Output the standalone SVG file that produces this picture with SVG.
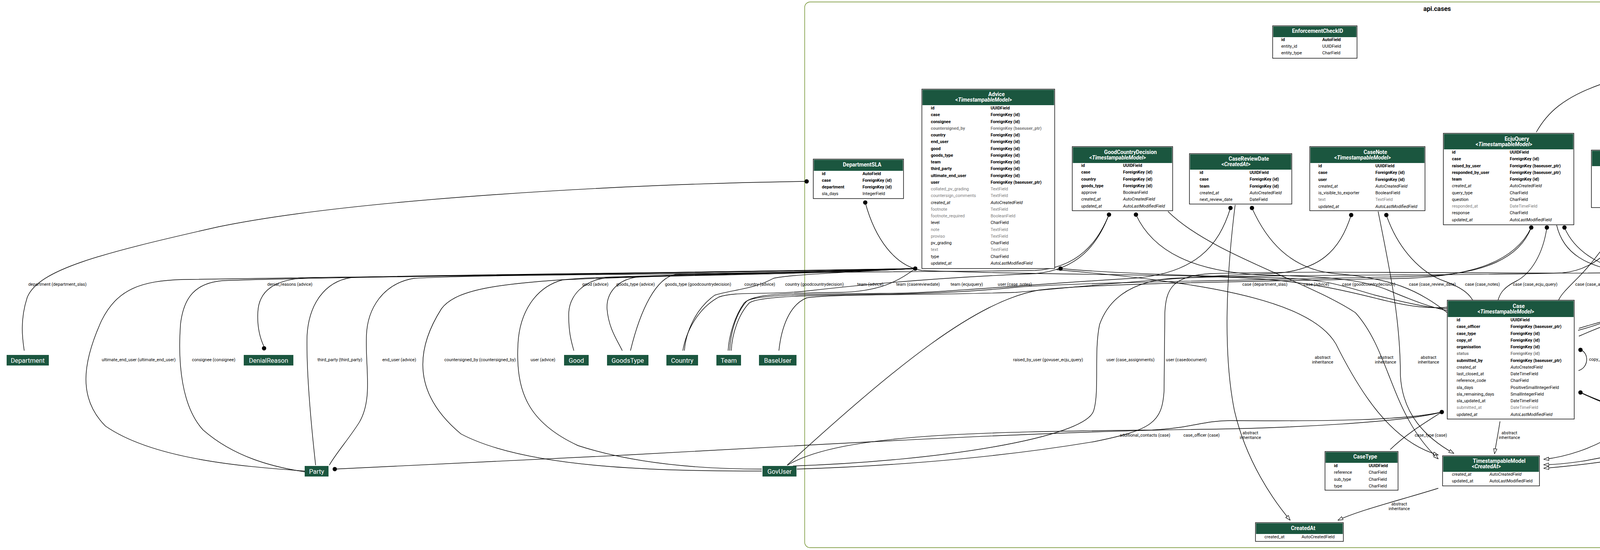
<svg xmlns="http://www.w3.org/2000/svg" width="5928" height="1407" viewBox="0 0 5928 1407">
<defs>
<style>
.tb{fill:#fff;stroke:#000;stroke-width:1.4}
.hd{fill:#1b563f}
.tt{font-family:Roboto,'Liberation Sans',sans-serif;font-size:13.75px;font-weight:bold;fill:#fff;text-anchor:middle}
.f{font-family:Roboto,'Liberation Sans',sans-serif;font-size:11px;fill:#000}
.b{font-weight:bold}
.i{font-style:italic}
.g{fill:#7b7b7b}
.xr{fill:#1b563f}
.xt{font-family:Roboto,'Liberation Sans',sans-serif;font-size:16.5px;fill:#fff;text-anchor:middle}
.e{fill:none;stroke:#000;stroke-width:1.4}
.el{font-family:Roboto,'Liberation Sans',sans-serif;font-size:11px;fill:#000;text-anchor:middle}
.cl{fill:none;stroke:#698b22;stroke-width:1.4}
.ct{font-family:Roboto,'Liberation Sans',sans-serif;font-size:16.5px;font-weight:bold;fill:#000;text-anchor:middle}
.dot{fill:#000}
</style>
<marker id="tri" viewBox="0 0 14 10" refX="13.5" refY="5" markerWidth="14" markerHeight="10" orient="auto" markerUnits="userSpaceOnUse"><path d="M0.7,0.7 L13.3,5 L0.7,9.3 Z" fill="#fff" stroke="#000" stroke-width="1.2"/></marker>
</defs>
<rect x="0" y="0" width="5928" height="1407" fill="#fff"/>
<g id="cluster_api_cases">
<rect class="cl" x="2060" y="5" width="3239" height="1396" rx="14"/>
<text class="ct" x="3679" y="28">api.cases</text>
</g>

<g id="connectors">
<path class="e" d="M2065,464 C1600,470 900,510 560,580 C250,650 100,690 70,760 C50,820 58,870 62,897"/>
<path class="e" d="M2215,518 C2240,610 2290,680 2360,692 C2700,705 3000,700 3200,712 C3350,720 3450,745 3530,765 C3610,785 3660,790 3705,786"/>
<path class="e" d="M2343,687 C2100,700 1300,704 800,710 C700,712 662,745 660,800 C658,840 668,870 676,887"/>
<path class="e" d="M2343,687 C1800,700 800,705 470,715 C360,718 300,740 260,820 C210,930 200,1020 270,1090 C400,1180 650,1195 780,1205"/>
<path class="e" d="M2343,687 C1800,700 900,706 570,718 C500,724 470,760 462,830 C455,930 465,1040 520,1100 C600,1170 700,1195 780,1207"/>
<path class="e" d="M2343,687 C1800,698 1100,702 900,710 C830,720 790,780 786,860 C784,960 798,1100 808,1190"/>
<path class="e" d="M2343,687 C1800,698 1200,704 1060,712 C980,725 940,790 938,860 C935,940 955,1020 920,1080 C895,1120 860,1160 843,1190"/>
<path class="e" d="M2343,687 C2000,698 1600,705 1490,712 C1300,725 1170,735 1130,790 C1060,900 1060,1010 1180,1110 C1350,1200 1700,1205 1950,1205"/>
<path class="e" d="M2343,687 C2000,698 1600,708 1440,716 C1370,735 1330,800 1326,880 C1320,1000 1350,1080 1480,1140 C1650,1195 1850,1200 1950,1200"/>
<path class="e" d="M2343,687 C2000,700 1700,705 1560,710 C1490,715 1458,760 1456,800 C1455,850 1463,875 1469,897"/>
<path class="e" d="M2343,687 C2100,700 1800,704 1640,708 C1580,712 1552,750 1554,790 C1558,840 1580,870 1593,897"/>
<path class="e" d="M2343,687 C2300,720 2250,746 2150,748 C2000,750 1930,752 1905,775 C1880,810 1866,860 1864,897"/>
<path class="e" d="M2343,687 C2150,697 2020,703 1980,712 C1930,740 1870,742 1830,755 C1780,790 1756,850 1752,897"/>
<path class="e" d="M2715,687 C2850,700 3100,706 3300,712 C3400,716 3450,735 3520,755 C3600,775 3660,788 3705,790"/>
<path class="e" marker-end="url(#tri)" d="M2705,690 C3050,720 3350,760 3420,880 C3480,1000 3560,1130 3682,1164"/>
<path class="e" d="M2839,549 C2810,620 2760,685 2650,692 C2300,696 1900,697 1730,702 C1680,710 1640,790 1614,897"/>
<path class="e" d="M2839,549 C2810,625 2760,690 2650,700 C2350,712 2150,735 2060,745 C1960,755 1880,745 1840,760 C1785,790 1756,850 1748,897"/>
<path class="e" d="M2908,549 C2950,640 3050,698 3250,704 C3420,708 3500,718 3560,745 C3620,770 3660,785 3705,795"/>
<path class="e" marker-end="url(#tri)" d="M2990,541 C3100,650 3350,720 3470,800 C3560,900 3560,1060 3682,1174"/>
<path class="e" d="M3150,532 C3120,630 3060,700 2900,712 C2600,730 2420,748 2300,750 C2100,752 1940,752 1912,770 C1885,800 1870,850 1868,897"/>
<path class="e" d="M3205,532 C3240,610 3300,690 3420,700 C3560,712 3630,740 3705,800"/>
<path class="e" marker-end="url(#tri)" d="M3162,524 C3140,700 3130,900 3160,1050 C3190,1180 3260,1280 3303,1331"/>
<path class="e" d="M3459,550 C3430,640 3380,695 3250,700 C3000,708 2750,735 2600,748 C2350,756 2120,752 2065,762 C2020,780 2000,840 1994,897"/>
<path class="e" d="M3549,550 C3580,640 3640,700 3700,720 C3740,735 3760,750 3770,768"/>
<path class="e" marker-end="url(#tri)" d="M3528,541 C3560,700 3585,820 3585,960 C3590,1060 3650,1120 3722,1160"/>
<path class="e" d="M3920,582 C3890,660 3800,700 3650,706 C3300,716 2800,720 2600,735 C2500,745 2400,750 2300,752 C2100,755 1945,756 1918,775 C1890,805 1874,855 1872,897"/>
<path class="e" d="M3920,582 C3880,665 3780,705 3600,712 C3200,720 2800,725 2660,742 C2500,770 2300,930 2015,1190"/>
<path class="e" d="M3960,582 C3950,650 3920,700 3880,720 C3850,735 3840,750 3835,768"/>
<path class="e" d="M4005,582 C4030,640 4100,700 4250,704 C4600,708 4850,705 4930,730 C5010,760 5022,830 5022,930 C5020,1040 5060,1080 5200,1095 C5500,1120 5700,1140 5775,1190"/>
<path class="e" marker-end="url(#tri)" d="M3985,576 C4000,640 4050,690 4200,700 C4280,705 4300,720 4298,760 C4290,880 4250,1020 4150,1100 C4080,1150 4000,1170 3952,1175"/>
<path class="e" d="M4161,541 C4120,620 4070,680 4040,710 C4010,740 3995,755 3990,768"/>
<path class="e" d="M4182,541 C4150,620 4090,690 4000,698 C3800,706 3300,700 3000,712 C2900,720 2840,760 2815,830 C2800,900 2815,1000 2800,1050 C2780,1120 2400,1180 2030,1192"/>
<path class="e" d="M4250,541 C4290,620 4340,690 4450,700 C4700,708 4930,700 4998,711 C5010,740 5030,746 5100,746 L5290,746 C5330,760 5352,820 5356,897"/>
<path class="e" marker-end="url(#tri)" d="M4267,531 C4300,620 4380,730 4400,860 C4410,1000 4330,1100 4180,1150 C4080,1180 4000,1188 3952,1189"/>
<path class="e" d="M4517,535 C4480,620 4400,690 4300,740 C4200,790 4100,830 4040,845"/>
<path class="e" d="M4527,535 C4490,620 4420,680 4300,695 C4000,705 3400,690 3100,700 C3000,705 2985,740 2982,800 L2980,1000 C2975,1080 2950,1100 2800,1130 C2500,1180 2200,1195 2040,1200"/>
<path class="e" marker-end="url(#tri)" d="M4597,526 C4640,620 4700,690 4850,700 C5050,712 5180,745 5240,750 C5380,760 5470,800 5486,887"/>
<path class="e" d="M4864,532 C4840,620 4780,690 4650,712 C4400,740 4200,790 4042,860"/>
<path class="e" d="M4918,532 C4950,620 5000,680 5084,705 C5200,730 5280,740 5310,780 C5340,830 5350,860 5352,897"/>
<path class="e" marker-end="url(#tri)" d="M4906,522 C4912,650 4910,800 4880,900 C4800,1050 4300,1170 3952,1198"/>
<path class="e" d="M5152,517 C5120,600 5080,680 5000,700 C4700,720 4300,760 4042,840"/>
<path class="e" d="M5236,516 C5300,580 5385,680 5385,760 C5385,830 5370,870 5366,897"/>
<path class="e" d="M4676,118 C4450,145 4200,180 4100,215 C4000,250 3960,290 3933,338"/>
<path class="e" d="M5013,161 C5150,168 5400,160 5540,215 C5700,310 5780,600 5800,800 C5810,950 5805,1100 5804,1190"/>
<path class="e" marker-end="url(#tri)" d="M5013,161 C5150,190 5250,175 5300,225 C5420,360 5480,560 5492,887"/>
<path class="e" d="M4046,895 C4068,902 4068,940 4041,948"/>
<path class="e" d="M3691,1054 C3600,1075 3400,1078 3150,1076 C3080,1076 3050,1095 2950,1100 C2500,1105 2150,1110 2016,1190"/>
<path class="e" d="M3691,1054 C3650,1080 3600,1110 3559,1150"/>
<path class="e" d="M3691,1054 C3600,1080 3300,1095 3100,1098 C2900,1100 2600,1110 2100,1137 C1700,1160 1200,1185 857,1200"/>
<path class="e" marker-end="url(#tri)" d="M3840,1078 C3835,1110 3830,1135 3826,1161"/>
<path class="e" d="M4046,1004 C4150,1050 4250,1080 4400,1085 C4800,1090 5200,1100 5300,1130 C5330,1150 5345,1170 5352,1190"/>
<path class="e" d="M4046,1004 C4150,1055 4260,1085 4450,1090 C4900,1095 5300,1105 5420,1125 C5480,1140 5515,1170 5530,1190"/>
<path class="e" d="M4046,1004 C4150,1055 4270,1088 4500,1092 C5000,1095 5400,1100 5550,1125 C5610,1140 5640,1165 5647,1176"/>
<path class="e" d="M4046,1004 C4150,1052 4250,1082 4400,1085 C4900,1088 5400,1090 5550,1105 C5680,1125 5740,1160 5770,1190"/>
<path class="e" marker-end="url(#tri)" d="M3682,1249 C3600,1275 3480,1305 3425,1331"/>

<g id="dots">
<circle class="dot" cx="2065" cy="464" r="5.5"/>
<circle class="dot" cx="2215" cy="518" r="5.5"/>
<circle class="dot" cx="2343" cy="687" r="5.5"/>
<circle class="dot" cx="2715" cy="687" r="5.5"/>
<circle class="dot" cx="2839" cy="549" r="5.5"/>
<circle class="dot" cx="2908" cy="549" r="5.5"/>
<circle class="dot" cx="3150" cy="532" r="5.5"/>
<circle class="dot" cx="3205" cy="532" r="5.5"/>
<circle class="dot" cx="3459" cy="550" r="5.5"/>
<circle class="dot" cx="3549" cy="550" r="5.5"/>
<circle class="dot" cx="3920" cy="582" r="5.5"/>
<circle class="dot" cx="3960" cy="582" r="5.5"/>
<circle class="dot" cx="4005" cy="582" r="5.5"/>
<circle class="dot" cx="4161" cy="541" r="5.5"/>
<circle class="dot" cx="4182" cy="541" r="5.5"/>
<circle class="dot" cx="4250" cy="541" r="5.5"/>
<circle class="dot" cx="4517" cy="535" r="5.5"/>
<circle class="dot" cx="4527" cy="535" r="5.5"/>
<circle class="dot" cx="4864" cy="532" r="5.5"/>
<circle class="dot" cx="4918" cy="532" r="5.5"/>
<circle class="dot" cx="5152" cy="517" r="5.5"/>
<circle class="dot" cx="5236" cy="516" r="5.5"/>
<circle class="dot" cx="4676" cy="118" r="5.5"/>
<circle class="dot" cx="5013" cy="161" r="5.5"/>
<circle class="dot" cx="4046" cy="895" r="5.5"/>
<circle class="dot" cx="4046" cy="1004" r="5.5"/>
<circle class="dot" cx="3691" cy="1054" r="5.5"/>
<circle class="dot" cx="676" cy="891" r="5.5"/>
<circle class="dot" cx="857" cy="1200" r="5.5"/>
<circle class="dot" cx="5647" cy="1176" r="5.5"/>
</g>

<g id="edge-labels">
<text class="el" x="147" y="731">department (department_slas)</text>
<text class="el" x="742" y="731">denial_reasons (advice)</text>
<text class="el" x="1524" y="731">good (advice)</text>
<text class="el" x="1627" y="731">goods_type (advice)</text>
<text class="el" x="1787" y="731">goods_type (goodcountrydecision)</text>
<text class="el" x="1945" y="731">country (advice)</text>
<text class="el" x="2085" y="731">country (goodcountrydecision)</text>
<text class="el" x="2228" y="731">team (advice)</text>
<text class="el" x="2350" y="731">team (casereviewdate)</text>
<text class="el" x="2475" y="731">team (ecjuquery)</text>
<text class="el" x="2598" y="731">user (case_notes)</text>
<text class="el" x="3238" y="731">case (department_slas)</text>
<text class="el" x="3370" y="731">case (advice)</text>
<text class="el" x="3504" y="731">case (goodcountrydecision)</text>
<text class="el" x="3667" y="731">case (case_review_date)</text>
<text class="el" x="3795" y="731">case (case_notes)</text>
<text class="el" x="3930" y="731">case (case_ecju_query)</text>
<text class="el" x="4095" y="731">case (case_assignments)</text>
<text class="el" x="4398" y="731">case (casedocument)</text>
<text class="el" x="4655" y="731">case (casequeues)</text>
<text class="el" x="4947" y="731">case (slas)</text>
<text class="el" x="5091" y="731">queue (case_assignments)</text>
<text class="el" x="5213" y="726">multi-table</text>
<text class="el" x="5213" y="738">inheritance</text>
<text class="el" x="5322" y="731">queue (casequeues)</text>
<text class="el" x="5415" y="731">queue (slas)</text>
<text class="el" x="5856" y="731">user (ecjuquery_document)</text>

<text class="el" x="355" y="924">ultimate_end_user (ultimate_end_user)</text>
<text class="el" x="547" y="924">consignee (consignee)</text>
<text class="el" x="870" y="924">third_party (third_party)</text>
<text class="el" x="1022" y="924">end_user (advice)</text>
<text class="el" x="1229" y="924">countersigned_by (countersigned_by)</text>
<text class="el" x="1390" y="924">user (advice)</text>
<text class="el" x="2683" y="924">raised_by_user (govuser_ecju_query)</text>
<text class="el" x="2894" y="924">user (case_assignments)</text>
<text class="el" x="3037" y="924">user (casedocument)</text>
<text class="el" x="3386" y="918">abstract</text><text class="el" x="3386" y="930">inheritance</text>
<text class="el" x="3547" y="918">abstract</text><text class="el" x="3547" y="930">inheritance</text>
<text class="el" x="3657" y="918">abstract</text><text class="el" x="3657" y="930">inheritance</text>
<text class="el" x="4316" y="918">abstract</text><text class="el" x="4316" y="930">inheritance</text>
<text class="el" x="4428" y="918">abstract</text><text class="el" x="4428" y="930">inheritance</text>
<text class="el" x="4893" y="918">abstract</text><text class="el" x="4893" y="930">inheritance</text>
<text class="el" x="5189" y="924">responded_by_user (exportuser_ecju_query)</text>
<text class="el" x="4068" y="923" style="text-anchor:start">copy_of (case)</text>

<text class="el" x="2931" y="1117">additional_contacts (case)</text>
<text class="el" x="3076" y="1117">case_officer (case)</text>
<text class="el" x="3201" y="1111">abstract</text><text class="el" x="3201" y="1123">inheritance</text>
<text class="el" x="3663" y="1117">case_type (case)</text>
<text class="el" x="3864" y="1111">abstract</text><text class="el" x="3864" y="1123">inheritance</text>
<text class="el" x="5067" y="1117">organisation (cases)</text>
<text class="el" x="5289" y="1117">status (query_status)</text>
<text class="el" x="5404" y="1117">flags (cases)</text>
<text class="el" x="5516" y="1117">submitted_by (case)</text>

<text class="el" x="4144" y="196" style="text-anchor:start">query (ecjuquery_document)</text>
<text class="el" x="5514" y="455">multi-table</text><text class="el" x="5514" y="467">inheritance</text>
<text class="el" x="3582" y="1293">abstract</text><text class="el" x="3582" y="1305">inheritance</text>
</g>
</g>

<g id="EnforcementCheckID">
<rect class="tb" x="3258" y="66" width="216" height="83"/>
<rect class="hd" x="3259.5" y="67.5" width="213" height="27.5"/>
<text class="tt" x="3373" y="84">EnforcementCheckID</text>
<text class="f" y="105"><tspan x="3280" class="b">id</tspan><tspan x="3280" dy="17.2">entity_id</tspan><tspan x="3280" dy="17.2">entity_type</tspan></text>
<text class="f" y="105"><tspan x="3385" class="b">AutoField</tspan><tspan x="3385" dy="17.2">UUIDField</tspan><tspan x="3385" dy="17.2">CharField</tspan></text>
</g>

<g id="CaseReferenceCode">
<rect class="tb" x="5043" y="66" width="234" height="83"/>
<rect class="hd" x="5044.5" y="67.5" width="231" height="27.5"/>
<text class="tt" x="5169" y="84">CaseReferenceCode</text>
<text class="f" y="105"><tspan x="5065" class="b">id</tspan><tspan x="5065" dy="17.2">reference_number</tspan><tspan x="5065" dy="17.2">year</tspan></text>
<text class="f" y="105"><tspan x="5197" class="b">UUIDField</tspan><tspan x="5197" dy="17.2">IntegerField</tspan><tspan x="5197" dy="17.2">IntegerField</tspan></text>
</g>

<g id="EcjuQueryDocument">
<rect class="tb" x="4693" y="57" width="303" height="100"/>
<rect class="hd" x="4694.5" y="58.5" width="300" height="28.5"/>
<text class="tt" x="4855" y="76">EcjuQueryDocument</text>
<text class="f" y="98"><tspan x="4716" class="b">document_ptr</tspan><tspan x="4716" dy="17.2" class="b">query</tspan><tspan x="4716" dy="17.2" class="b">user</tspan><tspan x="4716" dy="17.2" class="g">description</tspan></text>
<text class="f" y="98"><tspan x="4833" class="b">OneToOneField (id)</tspan><tspan x="4833" dy="17.2" class="b">ForeignKey (id)</tspan><tspan x="4833" dy="17.2" class="b">ForeignKey (baseuser_ptr)</tspan><tspan x="4833" dy="17.2" class="g">TextField</tspan></text>
</g>

<g id="DepartmentSLA">
<rect class="tb" x="2082" y="407" width="231" height="101"/>
<rect class="hd" x="2083.5" y="408.5" width="228" height="28.5"/>
<text class="tt" x="2207" y="426">DepartmentSLA</text>
<text class="f" y="447.5"><tspan x="2104" class="b">id</tspan><tspan x="2104" dy="17.2" class="b">case</tspan><tspan x="2104" dy="17.2" class="b">department</tspan><tspan x="2104" dy="17.2">sla_days</tspan></text>
<text class="f" y="447.5"><tspan x="2208" class="b">AutoField</tspan><tspan x="2208" dy="17.2" class="b">ForeignKey (id)</tspan><tspan x="2208" dy="17.2" class="b">ForeignKey (id)</tspan><tspan x="2208" dy="17.2">IntegerField</tspan></text>
</g>

<g id="Advice">
<rect class="tb" x="2360" y="228" width="340" height="459"/>
<rect class="hd" x="2361.5" y="229.5" width="337" height="39.5"/>
<text class="tt" x="2551" y="246">Advice</text>
<text class="tt" x="2518" y="260">&lt;<tspan class="i">TimestampableModel</tspan>&gt;</text>
<text class="f" y="280"><tspan x="2383" class="b">id</tspan><tspan x="2383" dy="17.26" class="b">case</tspan><tspan x="2383" dy="17.26" class="b">consignee</tspan><tspan x="2383" dy="17.26" class="g b">countersigned_by</tspan><tspan x="2383" dy="17.26" class="b">country</tspan><tspan x="2383" dy="17.26" class="b">end_user</tspan><tspan x="2383" dy="17.26" class="b">good</tspan><tspan x="2383" dy="17.26" class="b">goods_type</tspan><tspan x="2383" dy="17.26" class="b">team</tspan><tspan x="2383" dy="17.26" class="b">third_party</tspan><tspan x="2383" dy="17.26" class="b">ultimate_end_user</tspan><tspan x="2383" dy="17.26" class="b">user</tspan><tspan x="2383" dy="17.26" class="g">collated_pv_grading</tspan><tspan x="2383" dy="17.26" class="g">countersign_comments</tspan><tspan x="2383" dy="17.26" class="i">created_at</tspan><tspan x="2383" dy="17.26" class="g">footnote</tspan><tspan x="2383" dy="17.26" class="g">footnote_required</tspan><tspan x="2383" dy="17.26">level</tspan><tspan x="2383" dy="17.26" class="g">note</tspan><tspan x="2383" dy="17.26" class="g">proviso</tspan><tspan x="2383" dy="17.26">pv_grading</tspan><tspan x="2383" dy="17.26" class="g">text</tspan><tspan x="2383" dy="17.26">type</tspan><tspan x="2383" dy="17.26" class="i">updated_at</tspan></text>
<text class="f" y="280"><tspan x="2536" class="b">UUIDField</tspan><tspan x="2536" dy="17.26" class="b">ForeignKey (id)</tspan><tspan x="2536" dy="17.26" class="b">ForeignKey (id)</tspan><tspan x="2536" dy="17.26" class="g b">ForeignKey (baseuser_ptr)</tspan><tspan x="2536" dy="17.26" class="b">ForeignKey (id)</tspan><tspan x="2536" dy="17.26" class="b">ForeignKey (id)</tspan><tspan x="2536" dy="17.26" class="b">ForeignKey (id)</tspan><tspan x="2536" dy="17.26" class="b">ForeignKey (id)</tspan><tspan x="2536" dy="17.26" class="b">ForeignKey (id)</tspan><tspan x="2536" dy="17.26" class="b">ForeignKey (id)</tspan><tspan x="2536" dy="17.26" class="b">ForeignKey (id)</tspan><tspan x="2536" dy="17.26" class="b">ForeignKey (baseuser_ptr)</tspan><tspan x="2536" dy="17.26" class="g">TextField</tspan><tspan x="2536" dy="17.26" class="g">TextField</tspan><tspan x="2536" dy="17.26" class="i">AutoCreatedField</tspan><tspan x="2536" dy="17.26" class="g">TextField</tspan><tspan x="2536" dy="17.26" class="g">BooleanField</tspan><tspan x="2536" dy="17.26">CharField</tspan><tspan x="2536" dy="17.26" class="g">TextField</tspan><tspan x="2536" dy="17.26" class="g">TextField</tspan><tspan x="2536" dy="17.26">CharField</tspan><tspan x="2536" dy="17.26" class="g">TextField</tspan><tspan x="2536" dy="17.26">CharField</tspan><tspan x="2536" dy="17.26" class="i">AutoLastModifiedField</tspan></text>
</g>

<g id="GoodCountryDecision">
<rect class="tb" x="2745" y="375" width="257" height="164"/>
<rect class="hd" x="2746.5" y="376.5" width="254" height="40.5"/>
<text class="tt" x="2894" y="394">GoodCountryDecision</text>
<text class="tt" x="2861" y="408">&lt;<tspan class="i">TimestampableModel</tspan>&gt;</text>
<text class="f" y="427"><tspan x="2768" class="b">id</tspan><tspan x="2768" dy="17.26" class="b">case</tspan><tspan x="2768" dy="17.26" class="b">country</tspan><tspan x="2768" dy="17.26" class="b">goods_type</tspan><tspan x="2768" dy="17.26">approve</tspan><tspan x="2768" dy="17.26" class="i">created_at</tspan><tspan x="2768" dy="17.26" class="i">updated_at</tspan></text>
<text class="f" y="427"><tspan x="2875" class="b">UUIDField</tspan><tspan x="2875" dy="17.26" class="b">ForeignKey (id)</tspan><tspan x="2875" dy="17.26" class="b">ForeignKey (id)</tspan><tspan x="2875" dy="17.26" class="b">ForeignKey (id)</tspan><tspan x="2875" dy="17.26">BooleanField</tspan><tspan x="2875" dy="17.26" class="i">AutoCreatedField</tspan><tspan x="2875" dy="17.26" class="i">AutoLastModifiedField</tspan></text>
</g>

<g id="CaseReviewDate">
<rect class="tb" x="3045" y="393" width="262" height="129"/>
<rect class="hd" x="3046.5" y="394.5" width="259" height="39.5"/>
<text class="tt" x="3197" y="411">CaseReviewDate</text>
<text class="tt" x="3164" y="425">&lt;<tspan class="i">CreatedAt</tspan>&gt;</text>
<text class="f" y="445"><tspan x="3071" class="b">id</tspan><tspan x="3071" dy="17.26" class="b">case</tspan><tspan x="3071" dy="17.26" class="b">team</tspan><tspan x="3071" dy="17.26" class="i">created_at</tspan><tspan x="3071" dy="17.26">next_review_date</tspan></text>
<text class="f" y="445"><tspan x="3199" class="b">UUIDField</tspan><tspan x="3199" dy="17.26" class="b">ForeignKey (id)</tspan><tspan x="3199" dy="17.26" class="b">ForeignKey (id)</tspan><tspan x="3199" dy="17.26" class="i">AutoCreatedField</tspan><tspan x="3199" dy="17.26">DateField</tspan></text>
</g>

<g id="CaseNote">
<rect class="tb" x="3353" y="375" width="295" height="164"/>
<rect class="hd" x="3354.5" y="376.5" width="292" height="40.5"/>
<text class="tt" x="3521" y="394">CaseNote</text>
<text class="tt" x="3488" y="408">&lt;<tspan class="i">TimestampableModel</tspan>&gt;</text>
<text class="f" y="428"><tspan x="3375" class="b">id</tspan><tspan x="3375" dy="17.26" class="b">case</tspan><tspan x="3375" dy="17.26" class="b">user</tspan><tspan x="3375" dy="17.26" class="i">created_at</tspan><tspan x="3375" dy="17.26">is_visible_to_exporter</tspan><tspan x="3375" dy="17.26" class="g">text</tspan><tspan x="3375" dy="17.26" class="i">updated_at</tspan></text>
<text class="f" y="428"><tspan x="3521" class="b">UUIDField</tspan><tspan x="3521" dy="17.26" class="b">ForeignKey (id)</tspan><tspan x="3521" dy="17.26" class="b">ForeignKey (id)</tspan><tspan x="3521" dy="17.26" class="i">AutoCreatedField</tspan><tspan x="3521" dy="17.26">BooleanField</tspan><tspan x="3521" dy="17.26" class="g">TextField</tspan><tspan x="3521" dy="17.26" class="i">AutoLastModifiedField</tspan></text>
</g>

<g id="EcjuQuery">
<rect class="tb" x="3695" y="341" width="334" height="234"/>
<rect class="hd" x="3696.5" y="342.5" width="331" height="39.5"/>
<text class="tt" x="3883" y="360">EcjuQuery</text>
<text class="tt" x="3850" y="374">&lt;<tspan class="i">TimestampableModel</tspan>&gt;</text>
<text class="f" y="393"><tspan x="3717" class="b">id</tspan><tspan x="3717" dy="17.26" class="b">case</tspan><tspan x="3717" dy="17.26" class="b">raised_by_user</tspan><tspan x="3717" dy="17.26" class="b">responded_by_user</tspan><tspan x="3717" dy="17.26" class="b">team</tspan><tspan x="3717" dy="17.26" class="i">created_at</tspan><tspan x="3717" dy="17.26">query_type</tspan><tspan x="3717" dy="17.26">question</tspan><tspan x="3717" dy="17.26" class="g">responded_at</tspan><tspan x="3717" dy="17.26">response</tspan><tspan x="3717" dy="17.26" class="i">updated_at</tspan></text>
<text class="f" y="393"><tspan x="3865" class="b">UUIDField</tspan><tspan x="3865" dy="17.26" class="b">ForeignKey (id)</tspan><tspan x="3865" dy="17.26" class="b">ForeignKey (baseuser_ptr)</tspan><tspan x="3865" dy="17.26" class="b">ForeignKey (baseuser_ptr)</tspan><tspan x="3865" dy="17.26" class="b">ForeignKey (id)</tspan><tspan x="3865" dy="17.26" class="i">AutoCreatedField</tspan><tspan x="3865" dy="17.26">CharField</tspan><tspan x="3865" dy="17.26">CharField</tspan><tspan x="3865" dy="17.26" class="g">DateTimeField</tspan><tspan x="3865" dy="17.26">CharField</tspan><tspan x="3865" dy="17.26" class="i">AutoLastModifiedField</tspan></text>
</g>

<g id="CaseAssignment">
<rect class="tb" x="4074" y="384" width="284" height="147"/>
<rect class="hd" x="4075.5" y="385.5" width="281" height="39.5"/>
<text class="tt" x="4237" y="402">CaseAssignment</text>
<text class="tt" x="4204" y="416">&lt;<tspan class="i">TimestampableModel</tspan>&gt;</text>
<text class="f" y="435"><tspan x="4097" class="b">id</tspan><tspan x="4097" dy="17.26" class="b">case</tspan><tspan x="4097" dy="17.26" class="b">queue</tspan><tspan x="4097" dy="17.26" class="b">user</tspan><tspan x="4097" dy="17.26" class="i">created_at</tspan><tspan x="4097" dy="17.26" class="i">updated_at</tspan></text>
<text class="f" y="435"><tspan x="4195" class="b">UUIDField</tspan><tspan x="4195" dy="17.26" class="b">ForeignKey (id)</tspan><tspan x="4195" dy="17.26" class="b">ForeignKey (id)</tspan><tspan x="4195" dy="17.26" class="b">ForeignKey (baseuser_ptr)</tspan><tspan x="4195" dy="17.26" class="i">AutoCreatedField</tspan><tspan x="4195" dy="17.26" class="i">AutoLastModifiedField</tspan></text>
</g>

<g id="CaseDocument">
<rect class="tb" x="4403" y="389" width="319" height="136"/>
<rect class="hd" x="4404.5" y="390.5" width="316" height="29.5"/>
<text class="tt" x="4573" y="409">CaseDocument</text>
<text class="f" y="430"><tspan x="4427" class="b">document_ptr</tspan><tspan x="4427" dy="17.26" class="b">case</tspan><tspan x="4427" dy="17.26" class="b">user</tspan><tspan x="4427" dy="17.26" class="g">description</tspan><tspan x="4427" dy="17.26">type</tspan><tspan x="4427" dy="17.26">visible_to_exporter</tspan></text>
<text class="f" y="430"><tspan x="4559" class="b">OneToOneField (id)</tspan><tspan x="4559" dy="17.26" class="b">ForeignKey (id)</tspan><tspan x="4559" dy="17.26" class="b">ForeignKey (baseuser_ptr)</tspan><tspan x="4559" dy="17.26" class="g">TextField</tspan><tspan x="4559" dy="17.26">CharField</tspan><tspan x="4559" dy="17.26">BooleanField</tspan></text>
</g>

<g id="CaseQueue">
<rect class="tb" x="4769" y="393" width="247" height="129"/>
<rect class="hd" x="4770.5" y="394.5" width="244" height="39.5"/>
<text class="tt" x="4913" y="411">CaseQueue</text>
<text class="tt" x="4880" y="425">&lt;<tspan class="i">TimestampableModel</tspan>&gt;</text>
<text class="f" y="445"><tspan x="4791" class="b">id</tspan><tspan x="4791" dy="17.26" class="b">case</tspan><tspan x="4791" dy="17.26" class="b">queue</tspan><tspan x="4791" dy="17.26" class="i">created_at</tspan><tspan x="4791" dy="17.26" class="i">updated_at</tspan></text>
<text class="f" y="445"><tspan x="4888" class="b">AutoField</tspan><tspan x="4888" dy="17.26" class="b">ForeignKey (id)</tspan><tspan x="4888" dy="17.26" class="b">ForeignKey (id)</tspan><tspan x="4888" dy="17.26" class="i">AutoCreatedField</tspan><tspan x="4888" dy="17.26" class="i">AutoLastModifiedField</tspan></text>
</g>

<g id="CaseAssignmentSLA">
<rect class="tb" x="5062" y="407" width="215" height="101"/>
<rect class="hd" x="5063.5" y="408.5" width="212" height="28.5"/>
<text class="tt" x="5179" y="426">CaseAssignmentSLA</text>
<text class="f" y="448"><tspan x="5085" class="b">id</tspan><tspan x="5085" dy="17.26" class="b">case</tspan><tspan x="5085" dy="17.26" class="b">queue</tspan><tspan x="5085" dy="17.26">sla_days</tspan></text>
<text class="f" y="448"><tspan x="5171" class="b">AutoField</tspan><tspan x="5171" dy="17.26" class="b">ForeignKey (id)</tspan><tspan x="5171" dy="17.26" class="b">ForeignKey (id)</tspan><tspan x="5171" dy="17.26">IntegerField</tspan></text>
</g>

<g id="Case">
<rect class="tb" x="3705" y="768" width="325" height="304"/>
<rect class="hd" x="3706.5" y="769.5" width="322" height="41.5"/>
<text class="tt" x="3888" y="788">Case</text>
<text class="tt" x="3855" y="802">&lt;<tspan class="i">TimestampableModel</tspan>&gt;</text>
<text class="f" y="822"><tspan x="3729" class="b">id</tspan><tspan x="3729" dy="17.26" class="b">case_officer</tspan><tspan x="3729" dy="17.26" class="b">case_type</tspan><tspan x="3729" dy="17.26" class="b">copy_of</tspan><tspan x="3729" dy="17.26" class="b">organisation</tspan><tspan x="3729" dy="17.26" class="g b">status</tspan><tspan x="3729" dy="17.26" class="b">submitted_by</tspan><tspan x="3729" dy="17.26" class="i">created_at</tspan><tspan x="3729" dy="17.26">last_closed_at</tspan><tspan x="3729" dy="17.26">reference_code</tspan><tspan x="3729" dy="17.26">sla_days</tspan><tspan x="3729" dy="17.26">sla_remaining_days</tspan><tspan x="3729" dy="17.26">sla_updated_at</tspan><tspan x="3729" dy="17.26" class="g">submitted_at</tspan><tspan x="3729" dy="17.26" class="i">updated_at</tspan></text>
<text class="f" y="822"><tspan x="3867" class="b">UUIDField</tspan><tspan x="3867" dy="17.26" class="b">ForeignKey (baseuser_ptr)</tspan><tspan x="3867" dy="17.26" class="b">ForeignKey (id)</tspan><tspan x="3867" dy="17.26" class="b">ForeignKey (id)</tspan><tspan x="3867" dy="17.26" class="b">ForeignKey (id)</tspan><tspan x="3867" dy="17.26" class="g b">ForeignKey (id)</tspan><tspan x="3867" dy="17.26" class="b">ForeignKey (baseuser_ptr)</tspan><tspan x="3867" dy="17.26" class="i">AutoCreatedField</tspan><tspan x="3867" dy="17.26">DateTimeField</tspan><tspan x="3867" dy="17.26">CharField</tspan><tspan x="3867" dy="17.26">PositiveSmallIntegerField</tspan><tspan x="3867" dy="17.26">SmallIntegerField</tspan><tspan x="3867" dy="17.26">DateTimeField</tspan><tspan x="3867" dy="17.26" class="g">DateTimeField</tspan><tspan x="3867" dy="17.26" class="i">AutoLastModifiedField</tspan></text>
</g>

<g id="TimestampableModel">
<rect class="tb" x="3693" y="1166" width="248" height="77"/>
<rect class="hd" x="3694.5" y="1167.5" width="245" height="39.5"/>
<text class="tt" x="3838" y="1184">TimestampableModel</text>
<text class="tt" x="3805" y="1198">&lt;<tspan class="i">CreatedAt</tspan>&gt;</text>
<text class="f" y="1217"><tspan x="3717" class="i">created_at</tspan><tspan x="3717" dy="17.26">updated_at</tspan></text>
<text class="f" y="1217"><tspan x="3813" class="i">AutoCreatedField</tspan><tspan x="3813" dy="17.26">AutoLastModifiedField</tspan></text>
</g>

<g id="CaseType">
<rect class="tb" x="3392" y="1155" width="187" height="99"/>
<rect class="hd" x="3393.5" y="1156.5" width="184" height="27.5"/>
<text class="tt" x="3495" y="1173">CaseType</text>
<text class="f" y="1195"><tspan x="3415" class="b">id</tspan><tspan x="3415" dy="17.26">reference</tspan><tspan x="3415" dy="17.26">sub_type</tspan><tspan x="3415" dy="17.26">type</tspan></text>
<text class="f" y="1195"><tspan x="3504" class="b">UUIDField</tspan><tspan x="3504" dy="17.26">CharField</tspan><tspan x="3504" dy="17.26">CharField</tspan><tspan x="3504" dy="17.26">CharField</tspan></text>
</g>

<g id="CreatedAt">
<rect class="tb" x="3214" y="1337" width="225" height="48"/>
<rect class="hd" x="3215.5" y="1338.5" width="222" height="27.5"/>
<text class="tt" x="3336" y="1356">CreatedAt</text>
<text class="f" y="1377"><tspan x="3237">created_at</tspan></text>
<text class="f" y="1377"><tspan x="3332">AutoCreatedField</tspan></text>
</g>

<g id="Department"><rect class="xr" x="17" y="908" width="108" height="27"/><text class="xt" x="71" y="927.5">Department</text></g>
<g id="DenialReason"><rect class="xr" x="624" y="908" width="127" height="27"/><text class="xt" x="687.5" y="927.5">DenialReason</text></g>
<g id="Good"><rect class="xr" x="1444" y="908" width="63" height="27"/><text class="xt" x="1475.5" y="927.5">Good</text></g>
<g id="GoodsType"><rect class="xr" x="1554" y="908" width="106" height="27"/><text class="xt" x="1607" y="927.5">GoodsType</text></g>
<g id="Country"><rect class="xr" x="1706" y="908" width="81" height="27"/><text class="xt" x="1746.5" y="927.5">Country</text></g>
<g id="Team"><rect class="xr" x="1834" y="908" width="63" height="27"/><text class="xt" x="1865.5" y="927.5">Team</text></g>
<g id="BaseUser"><rect class="xr" x="1943" y="908" width="96" height="27"/><text class="xt" x="1991" y="927.5">BaseUser</text></g>
<g id="Queue"><rect class="xr" x="5320" y="908" width="74" height="27"/><text class="xt" x="5357" y="927.5">Queue</text></g>
<g id="Document"><rect class="xr" x="5440" y="908" width="98" height="27"/><text class="xt" x="5489" y="927.5">Document</text></g>
<g id="Party"><rect class="xr" x="780" y="1192" width="61" height="27"/><text class="xt" x="810.5" y="1211.5">Party</text></g>
<g id="GovUser"><rect class="xr" x="1952" y="1192" width="87" height="27"/><text class="xt" x="1995.5" y="1211.5">GovUser</text></g>
<g id="Organisation"><rect class="xr" x="5320" y="1192" width="117" height="27"/><text class="xt" x="5378.5" y="1211.5">Organisation</text></g>
<g id="CaseStatus"><rect class="xr" x="5483" y="1192" width="109" height="27"/><text class="xt" x="5537.5" y="1211.5">CaseStatus</text></g>
<g id="Flag"><rect class="xr" x="5638" y="1192" width="57" height="27"/><text class="xt" x="5666.5" y="1211.5">Flag</text></g>
<g id="ExporterUser"><rect class="xr" x="5741" y="1192" width="120" height="27"/><text class="xt" x="5801" y="1211.5">ExporterUser</text></g>
</svg>
